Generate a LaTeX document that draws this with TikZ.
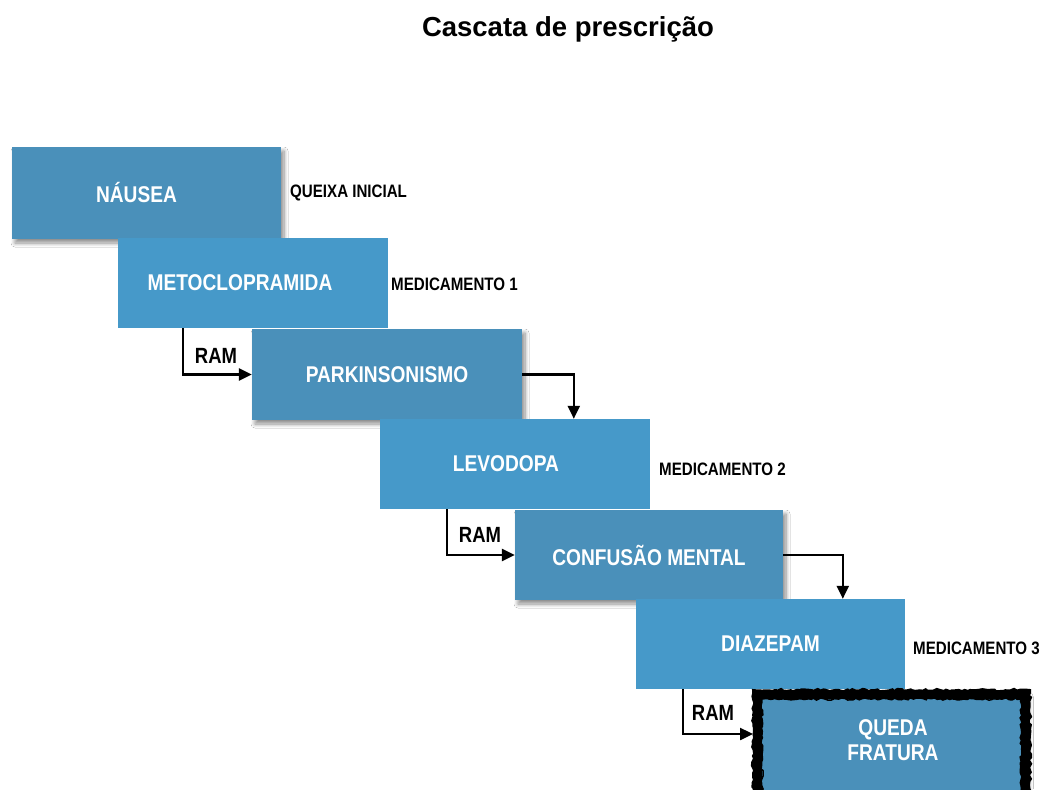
\documentclass[tikz,border=0pt]{standalone}
\usepackage{fontspec}
\setmainfont{Liberation Sans}
\newfontfamily\narrowfont[FakeStretch=0.84]{Liberation Sans}
\usetikzlibrary{calc,arrows.meta,shadows.blur,decorations.pathmorphing}
\definecolor{boxsolid}{HTML}{4699C9}
\definecolor{boxtex}{HTML}{4A90BA}
\tikzset{
  box/.style={rectangle, minimum width=270pt, minimum height=90pt, inner sep=0pt,
    text=white, font=\narrowfont\bfseries\fontsize{22.8}{24}\selectfont},
  solidbox/.style={box, fill=boxsolid},
  texbox/.style={box, fill=boxtex, blur shadow={shadow xshift=3pt, shadow yshift=-4pt, shadow blur steps=8, shadow blur radius=4pt, shadow opacity=45}},
  note/.style={anchor=west, inner sep=0pt, font=\narrowfont\bfseries\fontsize{18}{20}\selectfont},
  ramlbl/.style={inner sep=0pt, font=\narrowfont\bfseries\fontsize{22}{24}\selectfont},
  arr/.style={line width=2.4pt, -{Triangle[length=13pt,width=12pt]}},
  rough/.style={decorate, decoration={random steps, segment length=3pt, amplitude=1.2pt}}
}
\begin{document}
\begin{tikzpicture}[x=1pt,y=-1pt]
\pgfmathsetseed{7}
\clip (0,0) rectangle (1040,789);
\fill[white] (0,0) rectangle (1040,789);
\node[font=\bfseries\fontsize{27.5}{30}\selectfont] (title) at (568,29) {Cascata de prescrição};

\node[texbox, minimum width=269pt, minimum height=92pt] (nau) at (146.5,193) {\hspace*{-20pt}NÁUSEA};
\node[solidbox] (met) at (253,283) {\hspace*{-26pt}METOCLOPRAMIDA};
\node[texbox, minimum height=91pt] (par) at (387,374.5) {PARKINSONISMO};
\node[solidbox] (lev) at (515,464) {\hspace*{-18pt}LEVODOPA};
\node[texbox, minimum width=268pt] (con) at (649,555) {CONFUSÃO MENTAL};
\node[solidbox, minimum width=269pt] (dia) at (770.5,644) {DIAZEPAM};
\node[rectangle, draw=black, line width=9pt, fill=boxtex, minimum width=268pt, minimum height=110pt, inner sep=0pt,
  blur shadow={shadow xshift=3pt, shadow yshift=-3pt, shadow blur steps=8, shadow blur radius=5pt, shadow opacity=35}] (que) at (891.5,749.5) {};
\draw[rough, line width=2pt] (que.north west) rectangle (que.south east);
\draw[rough, line width=1.5pt] ($(que.north west)+(9,9)$) rectangle ($(que.south east)+(-9,-9)$);
\node[text=white, align=center, inner sep=0pt, font=\narrowfont\bfseries\fontsize{22.8}{25}\selectfont] (qtx) at (893,740) {QUEDA\\FRATURA};

\node[note] (l0) at (290,193) {QUEIXA INICIAL};
\node[note] (l1) at (391,284) {MEDICAMENTO 1};
\node[note] (l2) at (659,469) {MEDICAMENTO 2};
\node[note] (l3) at (913,648) {MEDICAMENTO 3};

\node[ramlbl] (r1) at (216,356) {RAM};
\node[ramlbl] (r2) at (480,535) {RAM};
\node[ramlbl] (r3) at (713,713) {RAM};

\draw[arr] ($(met.south west)+(65,0)$) |- (par.west);
\draw[arr] ($(lev.south west)+(67,0)$) |- (con.west);
\draw[arr] ($(dia.south west)+(47,0)$) |- ($(que.north west)+(0,44)$);
\draw[arr] (par.east) -| ($(lev.north west)+(194,0)$);
\draw[arr] (con.east) -| ($(dia.north west)+(207,0)$);
\end{tikzpicture}
\end{document}
